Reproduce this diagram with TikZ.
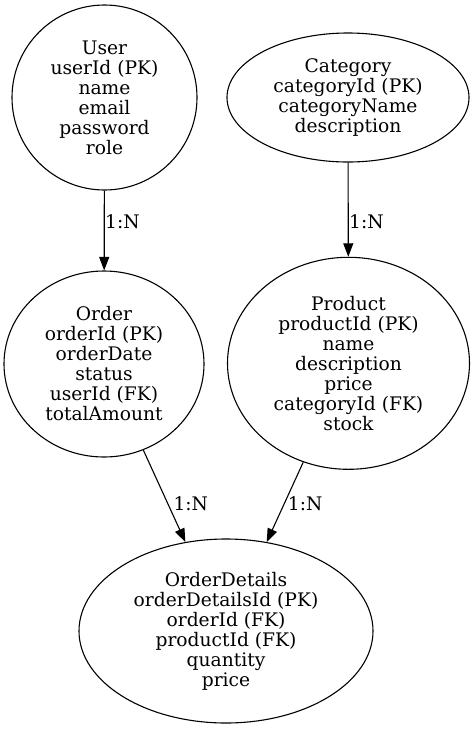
\documentclass[tikz,border=0pt]{standalone}
\usepackage{fontspec}
\setmainfont{DejaVu Serif}
\usetikzlibrary{shapes.geometric,arrows.meta}
\begin{document}
\begin{tikzpicture}[x=1pt,y=1pt,
  ent/.style={draw, line width=1.1pt, ellipse, inner sep=0pt, align=center,
    font=\fontsize{18.67}{20}\selectfont},
  arr/.style={draw, line width=1.1pt, -{Triangle[length=13.5pt,width=10pt]}},
  lbl/.style={inner sep=0pt, font=\fontsize{18.67}{20}\selectfont}]
\useasboundingbox (0,0) rectangle (474,-729);
\node[ent, minimum width=185, minimum height=185] (user) at (104.5,-97.5)
  {User\\userId (PK)\\name\\email\\password\\role};
\node[ent, minimum width=242, minimum height=129] (category) at (348,-97.5)
  {Category\\categoryId (PK)\\categoryName\\description};
\node[ent, minimum width=200, minimum height=186] (order) at (104,-364)
  {Order\\orderId (PK)\\orderDate\\status\\userId (FK)\\totalAmount};
\node[ent, minimum width=242, minimum height=212] (product) at (348.5,-363.3)
  {Product\\productId (PK)\\name\\description\\price\\categoryId (FK)\\stock};
\node[ent, minimum width=294, minimum height=184] (details) at (226,-631)
  {OrderDetails\\orderDetailsId (PK)\\orderId (FK)\\productId (FK)\\quantity\\price};
\draw[arr] (user) -- (order);
\draw[arr] (category) -- (product);
\draw[arr] (order) -- (details);
\draw[arr] (product) -- (details);
\node[lbl, anchor=base west] (l1) at (105,-228) {1:N};
\node[lbl, anchor=base west] (l2) at (349,-228) {1:N};
\node[lbl, anchor=base west] (l3) at (173.3,-510) {1:N};
\node[lbl, anchor=base west] (l4) at (287.7,-510) {1:N};
\end{tikzpicture}
\end{document}
